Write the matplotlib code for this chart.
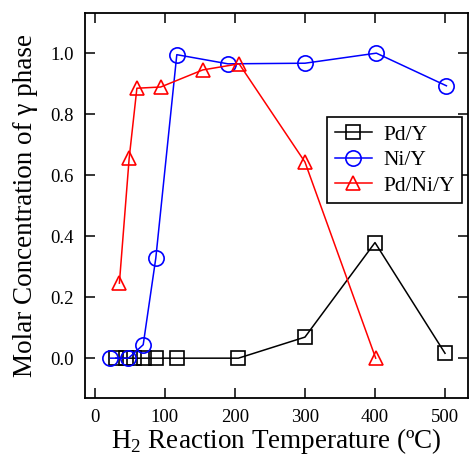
import matplotlib
matplotlib.use("Agg")
import matplotlib.pyplot as plt

plt.rcParams['font.family'] = ['Liberation Serif', 'DejaVu Serif']
plt.rcParams['mathtext.fontset'] = 'custom'
plt.rcParams['mathtext.rm'] = 'Liberation Serif'

pdy_x = [30, 44, 56, 70, 88, 117, 205, 300, 400, 500]
pdy_y = [0, 0, 0, 0, 0, 0, 0, 0.069, 0.379, 0.016]
niy_x = [22, 48, 69, 87, 117, 190, 300, 402, 502]
niy_y = [0, 0, 0.044, 0.328, 0.995, 0.965, 0.967, 1.0, 0.893]
pdniy_x = [35, 49, 60, 94, 154, 206, 300, 401]
pdniy_y = [0.246, 0.656, 0.885, 0.889, 0.945, 0.965, 0.643, 0.0]

xticks = [0, 100, 200, 300, 400, 500]
yticks = [0.0, 0.2, 0.4, 0.6, 0.8, 1.0]

fig = plt.figure(figsize=(4.7, 4.55), dpi=100)
ax = fig.add_axes([0.181, 0.125, 0.815, 0.846])

ax.plot(pdy_x, pdy_y, color='black', marker='s', ms=9.5, mfc='none', mew=1.2, lw=1.1, label='Pd/Y')
ax.plot(niy_x, niy_y, color='blue', marker='o', ms=11, mfc='none', mew=1.2, lw=1.1, label='Ni/Y')
ax.plot(pdniy_x, pdniy_y, color='red', marker='^', ms=10, mfc='none', mew=1.2, lw=1.1, label='Pd/Ni/Y')

ax.set_xlim(-14, 533)
ax.set_ylim(-0.131, 1.131)
ax.set_xticks(xticks)
ax.set_yticks(yticks)
ax.set_xticklabels([str(t) for t in xticks])
ax.set_yticklabels([f'{t:.1f}' for t in yticks])
ax.tick_params(direction='in', length=7, width=1.1, top=True, right=True, labelsize=13.5, pad=8)
for s in ax.spines.values():
    s.set_linewidth(1.3)

ax.set_xlabel('H$_2$ Reaction Temperature (ºC)', fontsize=19.5, labelpad=0)
ax.set_ylabel('Molar Concentration of γ phase', fontsize=19.5, labelpad=9)

leg = ax.legend(loc='upper right', bbox_to_anchor=(0.984, 0.730), borderaxespad=0, fontsize=15.5,
                frameon=True, fancybox=False, edgecolor='black', handlelength=1.75, borderpad=0.35,
                labelspacing=0.25, handletextpad=0.5)
leg.get_frame().set_linewidth(1.2)
leg.get_frame().set_alpha(1)

fig.savefig('out.png', dpi=100)
